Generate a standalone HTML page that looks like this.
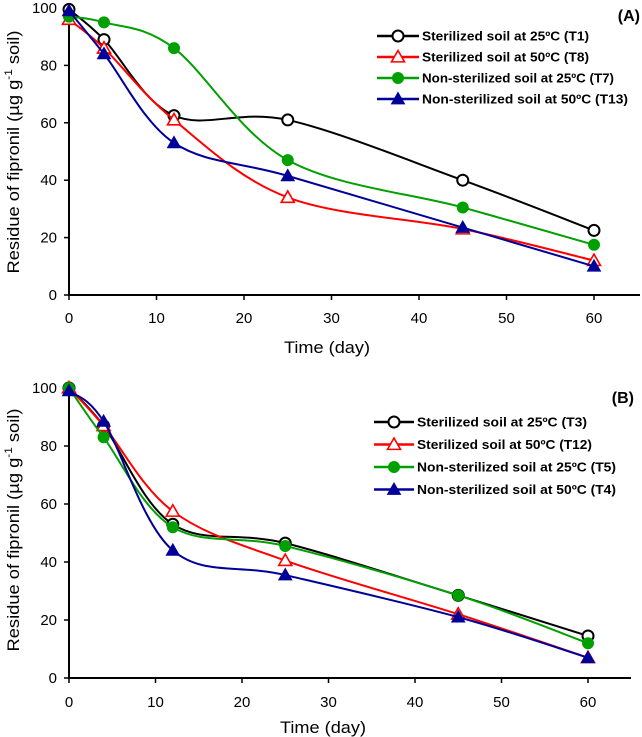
<!DOCTYPE html>
<html><head><meta charset="utf-8"><style>
body{margin:0;background:#fff}
svg{display:block;font-family:"Liberation Sans",sans-serif}
</style></head><body>
<svg id="chart" width="642" height="737" viewBox="0 0 642 737" xmlns="http://www.w3.org/2000/svg"></svg>
<script>
const days = [0, 4, 12, 25, 45, 60];
const xTicks = [0, 10, 20, 30, 40, 50, 60];
const yTicks = [0, 20, 40, 60, 80, 100];
const namesA = ["Sterilized soil at 25ºC (T1)", "Sterilized soil at 50ºC (T8)", "Non-sterilized soil at 25ºC (T7)", "Non-sterilized soil at 50ºC (T13)"];
const namesB = ["Sterilized soil at 25ºC (T3)", "Sterilized soil at 50ºC (T12)", "Non-sterilized soil at 25ºC (T5)", "Non-sterilized soil at 50ºC (T4)"];
const a_T1 = [99.5, 89, 62.5, 61, 40, 22.5];
const a_T8 = [96, 86, 61, 34, 23, 12];
const a_T7 = [97, 95, 86, 47, 30.5, 17.5];
const a_T13 = [99, 84, 53, 41.5, 23.5, 10];
const b_T3 = [100, 87, 53, 46.5, 28.5, 14.5];
const b_T12 = [100, 87, 57.5, 40.5, 22, 7];
const b_T5 = [100, 83, 52, 45.5, 28.5, 12];
const b_T4 = [99, 88.5, 44, 35.5, 21, 7];

const NS = "http://www.w3.org/2000/svg";
const svg = document.getElementById("chart");
function mk(tag, attrs, parent){const e=document.createElementNS(NS,tag);for(const k in attrs)e.setAttribute(k,attrs[k]);(parent||svg).appendChild(e);return e;}
const colors = ["#000000", "#ff0000", "#00a000", "#000099"];
const markers = ["circleOpen", "triOpen", "circleFill", "triFill"];

function marker(g, type, x, y, c){
  let m;
  if(type.startsWith("circle")){
    m = mk("circle",{cx:x,cy:y,r:5.5,fill:type==="circleOpen"?"#fff":c,stroke:c,"stroke-width":type==="circleOpen"?2:1},g);
  } else {
    const s=6.5;
    m = mk("polygon",{points:`${x},${y-s} ${x-s},${y+s*0.75} ${x+s},${y+s*0.75}`,fill:type==="triOpen"?"#fff":c,stroke:c,"stroke-width":type==="triOpen"?1.6:1},g);
  }
  return m;
}

function smoothPath(pts){
  let d=`M${pts[0][0]},${pts[0][1]}`;
  for(let i=0;i<pts.length-1;i++){
    const p0=pts[Math.max(0,i-1)],p1=pts[i],p2=pts[i+1],p3=pts[Math.min(pts.length-1,i+2)];
    const c1x=p1[0]+(p2[0]-p0[0])/6,c1y=p1[1]+(p2[1]-p0[1])/6;
    const c2x=p2[0]-(p3[0]-p1[0])/6,c2y=p2[1]-(p3[1]-p1[1])/6;
    d+=` C${c1x},${c1y} ${c2x},${c2y} ${p2[0]},${p2[1]}`;
  }
  return d;
}

function panel(cfg){
  const g = mk("g",{});
  
  
  const X = v => cfg.x0 + (cfg.x60-cfg.x0)*v/60;
  const Y = v => cfg.y0 - (cfg.y0-cfg.y100)*v/100;
  const ax = mk("path",{d:`M${cfg.x0},${cfg.y100} V${cfg.y0} H${cfg.xEnd}`,fill:"none",stroke:"#000","stroke-width":2},g);
  
  
  xTicks.forEach(t=>{
    mk("line",{x1:X(t),x2:X(t),y1:cfg.y0,y2:cfg.y0+5,stroke:"#000","stroke-width":1.5},g);
    const tx = mk("text",{x:X(t),y:cfg.xLabY,"text-anchor":"middle","font-size":15},g);
    tx.textContent=t;
    
    
  });
  yTicks.forEach(t=>{
    mk("line",{x1:cfg.x0-5,x2:cfg.x0,y1:Y(t),y2:Y(t),stroke:"#000","stroke-width":1.5},g);
    const tx = mk("text",{x:cfg.x0-12,y:Y(t)+5,"text-anchor":"end","font-size":15},g);
    tx.textContent=t;
    
    
  });
  const xt = mk("text",{x:cfg.xTitleX,y:cfg.xTitleY,"text-anchor":"middle","font-size":17,textLength:86,lengthAdjust:"spacingAndGlyphs"},g);
  xt.textContent="Time (day)";
  
  
  const yt = mk("text",{x:0,y:0,"text-anchor":"middle","font-size":17,textLength:243,lengthAdjust:"spacingAndGlyphs",transform:`translate(19,${cfg.yTitleY}) rotate(-90)`},g);
  yt.innerHTML='Residue of fipronil (µg g<tspan dy="-7" font-size="11">-1</tspan><tspan dy="7"> soil)</tspan>';
  
  
  const pl = mk("text",{x:cfg.plX,y:cfg.plY,"text-anchor":"end","font-size":16,"font-weight":"bold"},g);
  pl.textContent=cfg.label;
  
  
  cfg.series.forEach((s,i)=>{
    const pts = days.map((d,j)=>[X(d),Y(s[j])]);
    const p = mk("path",{d:smoothPath(pts),fill:"none",stroke:colors[i],"stroke-width":2},g);
    
    
    pts.forEach(pt=>{
      const m = marker(g, markers[i], pt[0], pt[1], colors[i]);
      
      
    });
  });
  cfg.names.forEach((n,i)=>{
    const y = cfg.legY + i*cfg.legDy;
    const le = mk("g",{},g);
    
    
    mk("line",{x1:cfg.legX1,x2:cfg.legX2,y1:y,y2:y,stroke:colors[i],"stroke-width":2.5},le);
    marker(le, markers[i], (cfg.legX1+cfg.legX2)/2, y, colors[i]);
    const t = mk("text",{x:cfg.legX2+3,y:y+4.5,"font-size":13,"font-weight":"bold",textLength:cfg.legW[i],lengthAdjust:"spacingAndGlyphs"},le);
    t.textContent=n;
  });
}

panel({name:"panel-a",label:"(A)",x0:69,x60:594,xEnd:640,y0:295,y100:8,xLabY:323,xTitleX:327,xTitleY:353,yTitleY:152,plX:640,plY:21,
  series:[a_T1,a_T8,a_T7,a_T13],names:namesA,legX1:377,legX2:419,legY:36,legDy:21,legW:[167,167,192,206]});
panel({name:"panel-b",label:"(B)",x0:69,x60:588,xEnd:631,y0:678,y100:388,xLabY:707,xTitleX:323,xTitleY:733,yTitleY:530,plX:634,plY:403,
  series:[b_T3,b_T12,b_T5,b_T4],names:namesB,legX1:374,legX2:414,legY:422,legDy:22.5,legW:[170,175,199,199]});
</script>
</body></html>
